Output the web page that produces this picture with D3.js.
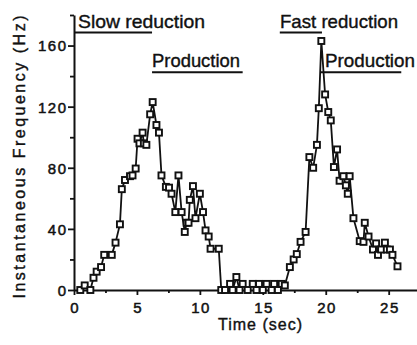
<!DOCTYPE html>
<html><head><meta charset="utf-8">
<script src="https://cdn.jsdelivr.net/npm/d3@7"></script>
<style>
html,body{margin:0;padding:0;background:#fff;}
svg{display:block;font-family:"Liberation Sans",Arial,Helvetica,sans-serif;}
</style></head>
<body>
<svg id="chart" width="417" height="345"></svg>
<script>
// Time (sec)
const times = [0.5,0.85,1.3,1.55,1.8,2.15,2.4,3.0,3.3,3.65,3.8,4.05,4.45,4.65,4.9,
  5.05,5.2,5.45,5.55,5.75,6.05,6.25,6.55,6.75,6.95,7.3,7.55,7.75,8.05,8.3,8.55,8.8,8.95,9.1,9.2,9.45,9.65,10.0,10.25,10.45,10.7,10.85,11.5,11.7,
  12.0,12.4,12.6,12.9,13.15,13.4,13.8,14.2,14.5,14.7,15.0,15.3,15.7,15.9,16.2,16.5,16.75,
  17.15,17.45,17.7,18.0,18.4,18.7,19.0,19.3,19.45,19.65,19.95,20.2,20.4,20.65,20.9,21.1,21.4,21.6,21.75,21.9,22.2,22.7,23.0,23.1,23.4,23.75,24.0,24.15,24.4,24.7,24.85,25.1,25.3,25.7];
// Instantaneous frequency (Hz)
const freqs = [0,3,0,8,12,15,23,23,31,43,66,72,74.5,75,79.5,
  99,96,103,96,95,115,123,108,103,75,67.5,67,63,51,75,51,38,44,44,59,68,47,63,51,39,35,27,27,0,
  0,4,0,8.5,0,4,0,4,0,4,0,4,0,4,0,4,3,
  15,20,23.5,31.5,38,87,80,95,119,163,128,116.5,111,80.5,92,71.5,74.5,68.5,63,74.5,47,32,31.5,44,35,26.5,30.5,23,26.5,31,26.5,26.5,23,15.5];

const xMajorTicks = [0,5,10,15,20,25];
const xMinorTicks = [2.5,7.5,12.5,17.5,22.5];
const yMajorTicks = [0,40,80,120,160];
const yMinorTicks = [20,60,100,140,180];

// Annotation phases
const phaseLabels = ["Slow reduction","Production","Fast reduction","Production"];
const phaseStart  = [0, 6.2, 16.35, 19.55];
const phaseEnd    = [6.2, 13.4, 19.7, 26.0];
const phaseLevel  = [168.5, 142.5, 168.5, 142.5];

const svg = d3.select("#chart");
const x = d3.scaleLinear().domain([0,27.25]).range([74,417]);
const y = d3.scaleLinear().domain([0,180]).range([290,15]);

const ink = "#111";

// X axis
const gx = svg.append("g").attr("transform",`translate(0,${y(0)})`);
gx.call(d3.axisBottom(x).tickValues(xMajorTicks).tickSize(5).tickSizeOuter(0).tickFormat(d3.format("d")));
const gxm = svg.append("g").attr("transform",`translate(0,${y(0)})`);
gxm.call(d3.axisBottom(x).tickValues(xMinorTicks).tickSize(3).tickSizeOuter(0).tickFormat(""));
gxm.select(".domain").remove();

// Y axis
const gy = svg.append("g").attr("transform",`translate(${x(0)},0)`);
gy.call(d3.axisLeft(y).tickValues(yMajorTicks).tickSize(6).tickSizeOuter(0).tickFormat(d3.format("d")));
const gym = svg.append("g").attr("transform",`translate(${x(0)},0)`);
gym.call(d3.axisLeft(y).tickValues(yMinorTicks).tickSize(4).tickSizeOuter(0).tickFormat(""));
gym.select(".domain").remove();

svg.selectAll(".domain").attr("stroke",ink).attr("stroke-width",2);
svg.selectAll(".tick line").attr("stroke",ink).attr("stroke-width",1.8);
svg.selectAll(".tick text").attr("fill",ink).attr("font-size","15px")
  .attr("stroke",ink).attr("stroke-width",0.5)
  .attr("font-family",'"Liberation Sans",Arial,sans-serif').attr("letter-spacing","1.5px");
gx.selectAll(".tick text").attr("dy","0.95em").attr("y",9).attr("dx","0.75px");
gy.selectAll(".tick text").attr("x",-8).attr("dx","1.5px").attr("dy","0.36em");

// Line
const pts = times.map((t,i)=>[t,freqs[i]]);
svg.append("path").datum(pts)
  .attr("fill","none").attr("stroke",ink).attr("stroke-width",1.8).attr("stroke-linejoin","round")
  .attr("d", d3.line().x(d=>x(d[0])).y(d=>y(d[1])));

// Markers
const s = 6;
svg.append("g").selectAll("rect").data(pts).join("rect")
  .attr("x",d=>x(d[0])-s/2).attr("y",d=>y(d[1])-s/2)
  .attr("width",s).attr("height",s)
  .attr("fill","#fff").attr("stroke",ink).attr("stroke-width",1.9);

// Phase annotations
const ph = phaseLabels.map((l,i)=>({l, a:phaseStart[i], b:phaseEnd[i], v:phaseLevel[i]}));
const textW = [127, 88, 118, 90];
const textX = [78, 152, 280, 325];
const g = svg.append("g");
g.selectAll("line").data(ph).join("line")
  .attr("x1",d=>x(d.a)).attr("x2",d=>x(d.b))
  .attr("y1",d=>y(d.v)).attr("y2",d=>y(d.v))
  .attr("stroke",ink).attr("stroke-width",2);
g.selectAll("text").data(ph).join("text")
  .attr("x",(d,i)=>textX[i]).attr("y",d=>y(d.v)-5)
  .attr("font-size","19px").attr("fill",ink).attr("stroke",ink).attr("stroke-width",0.4)
  .attr("textLength",(d,i)=>textW[i]).attr("lengthAdjust","spacingAndGlyphs")
  .text(d=>d.l);

// Axis titles
svg.append("text").attr("x",260).attr("y",330).attr("text-anchor","middle")
  .attr("font-size","16px").attr("fill",ink).attr("stroke",ink).attr("stroke-width",0.4)
  .attr("textLength",84).attr("lengthAdjust","spacing")
  .text("Time (sec)");
svg.append("text").attr("transform","translate(25,157) rotate(-90)").attr("text-anchor","middle")
  .attr("font-size","16px").attr("fill",ink).attr("stroke",ink).attr("stroke-width",0.4)
  .attr("textLength",283).attr("lengthAdjust","spacing")
  .text("Instantaneous Frequency (Hz)");
</script>
</body></html>
